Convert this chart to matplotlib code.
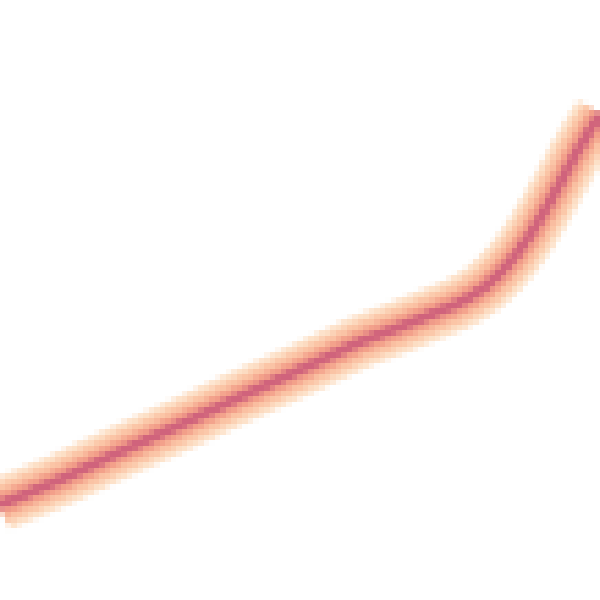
import numpy as np
import matplotlib
matplotlib.use("Agg")
import matplotlib.pyplot as plt

# centre of the band, in picture units (x to the right, y downward)
curve_x = [0, 60, 120, 180, 240, 300, 360, 400, 420, 440, 455, 470, 485, 500, 515, 530, 545, 560, 575, 590, 600]
curve_y = [505, 480, 452, 425, 397, 370, 342, 327, 319, 311, 305, 297, 287, 273, 256, 235, 210, 183, 155, 130, 115]

# band layers, outer to inner: colour and width in final pixels
layer_colors = ["#fde1c8", "#fbc5a6", "#f3a08a", "#d0637c"]
layer_widths = [53, 39, 24, 10]

CELL = 5.5  # size of one coarse cell in final pixels


def render_coarse():
    dpi = 100 / CELL
    fig = plt.figure(figsize=(6, 6), dpi=dpi)
    ax = fig.add_axes([0, 0, 1, 1])
    for color, width in zip(layer_colors, layer_widths):
        ax.plot(curve_x, curve_y, color=color, linewidth=width * 0.72,
                solid_capstyle="butt", solid_joinstyle="round")
    ax.set_xlim(0, 600)
    ax.set_ylim(600, 0)
    ax.axis("off")
    fig.canvas.draw()
    img = np.asarray(fig.canvas.buffer_rgba()).copy()
    plt.close(fig)
    return img


def plot_band():
    img = render_coarse()
    fig = plt.figure(figsize=(6, 6), dpi=100)
    ax = fig.add_axes([0, 0, 1, 1])
    ax.imshow(img, extent=(0, 600, 600, 0), interpolation="nearest",
              resample=False, aspect="auto")
    ax.set_xlim(0, 600)
    ax.set_ylim(600, 0)
    ax.axis("off")
    fig.savefig("out.png", dpi=100)


if __name__ == "__main__":
    plot_band()
